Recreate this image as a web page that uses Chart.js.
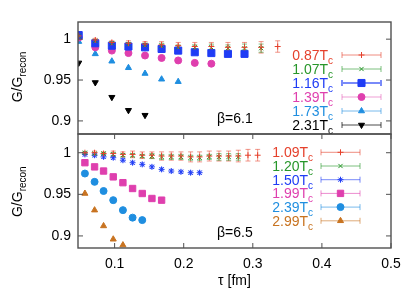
<!DOCTYPE html>
<html>
<head>
<meta charset="utf-8">
<script src="https://cdn.jsdelivr.net/npm/chart.js@4/dist/chart.umd.min.js"></script>
<style>
  html, body { margin: 0; padding: 0; background: #fff; }
  #wrap { position: relative; width: 414px; height: 290px; }
  canvas { position: absolute; left: 0; }
  #topChart { top: 0; }
  #bottomChart { top: 119px; }
</style>
</head>
<body>
<div id="wrap">
  <canvas id="topChart" width="414" height="149"></canvas>
  <canvas id="bottomChart" width="414" height="171"></canvas>
</div>
<script>
// beta = 6.1 panel
const tau61 = [0.048, 0.072, 0.096, 0.120, 0.144, 0.168, 0.192, 0.216, 0.240, 0.264, 0.288, 0.312, 0.336];
const t087 = [1.004, 0.999, 0.996, 0.995, 0.994, 0.993, 0.992, 0.991, 0.991, 0.990, 0.990, 0.990, 0.991];
const e087 = [0.001, 0.002, 0.002, 0.003, 0.003, 0.004, 0.004, 0.005, 0.005, 0.006, 0.006, 0.007, 0.007];
const t107 = [1.004, 0.998, 0.995, 0.994, 0.993, 0.992, 0.990, 0.990, 0.990, 0.989, 0.989, 0.989];
const e107 = [0.001, 0.001, 0.002, 0.002, 0.002, 0.003, 0.003, 0.003, 0.004, 0.004, 0.005, 0.005];
const t116 = [1.005, 0.995, 0.992, 0.991, 0.990, 0.988, 0.986, 0.984, 0.983, 0.982, 0.982];
const t139 = [1.002, 0.990, 0.986, 0.983, 0.980, 0.977, 0.974, 0.971, 0.970];
const t173 = [0.997, 0.982, 0.973, 0.965, 0.958, 0.951, 0.948];
const t231 = [0.971, 0.947, 0.929, 0.913, 0.907];

// beta = 6.5 panel
const tau65 = [0.057, 0.071, 0.084, 0.098, 0.112, 0.126, 0.140, 0.154, 0.168, 0.182, 0.196, 0.210, 0.223, 0.237, 0.251, 0.265, 0.279, 0.293, 0.307];
const b109 = [1.000, 1.000, 0.999, 0.999, 0.998, 0.998, 0.997, 0.997, 0.996, 0.996, 0.996, 0.995, 0.995, 0.996, 0.996, 0.996, 0.996, 0.997, 0.997];
const f109 = [0.001, 0.002, 0.002, 0.003, 0.003, 0.004, 0.004, 0.004, 0.005, 0.005, 0.005, 0.006, 0.006, 0.006, 0.006, 0.006, 0.007, 0.007, 0.007];
const b120 = [1.000, 0.999, 0.999, 0.998, 0.997, 0.997, 0.996, 0.996, 0.995, 0.995, 0.995, 0.994, 0.994, 0.995, 0.995, 0.995, 0.995];
const f120 = [0.001, 0.001, 0.001, 0.002, 0.002, 0.002, 0.002, 0.003, 0.003, 0.003, 0.003, 0.003, 0.003, 0.003, 0.004, 0.004, 0.004];
const b150 = [0.998, 0.997, 0.995, 0.994, 0.991, 0.988, 0.986, 0.983, 0.980, 0.978, 0.977, 0.976, 0.976];
const f150 = [0.002, 0.002, 0.002, 0.002, 0.002, 0.002, 0.002, 0.002, 0.002, 0.002, 0.002, 0.002, 0.002];
const b199 = [0.988, 0.983, 0.978, 0.971, 0.964, 0.957, 0.951, 0.945, 0.943];
const b239 = [0.975, 0.965, 0.954, 0.943, 0.931, 0.922, 0.919];
const b299 = [0.951, 0.931, 0.912, 0.896, 0.889];

const xTicks = [0.1, 0.2, 0.3, 0.4, 0.5];
const yTicks = [0.9, 0.95, 1];

Chart.defaults.font.family = "'Liberation Sans', Arial, sans-serif";
Chart.defaults.font.size = 14;
Chart.defaults.color = "#000";

function pts(tau, vals) {
  return vals.map((v, i) => ({ x: tau[i], y: v }));
}

function ds(label, color, tau, vals, style, radius, extra) {
  return Object.assign({
    label: label,
    data: pts(tau, vals),
    pointStyle: style,
    pointRadius: radius,
    pointBackgroundColor: color,
    pointBorderColor: color,
    pointBorderWidth: 1,
    showLine: false,
    color: color,
  }, extra || {});
}

const RED = "#e5412c", GREEN = "#27962a", BLUE = "#1f3cf5",
  MAG = "#df3fae", LBLUE = "#1f8ee0", BLACK = "#000", ORANGE = "#c87320";

// error bars, legend, frame, labels (offsets are from the top of the chart area)
const panelPlugin = {
  id: "panel",
  beforeDatasetsDraw(chart) {
    const ctx = chart.ctx, xs = chart.scales.x, ys = chart.scales.y, a = chart.chartArea;
    ctx.save();
    ctx.beginPath();
    ctx.rect(a.left, a.top, a.right - a.left, a.bottom - a.top);
    ctx.clip();
    chart.data.datasets.forEach((d) => {
      if (!d.errors) return;
      ctx.strokeStyle = d.errColor;
      ctx.lineWidth = 1;
      d.data.forEach((p, i) => {
        const x = xs.getPixelForValue(p.x);
        const y0 = ys.getPixelForValue(p.y - d.errors[i]);
        const y1 = ys.getPixelForValue(p.y + d.errors[i]);
        ctx.beginPath();
        ctx.moveTo(x, y0); ctx.lineTo(x, y1);
        ctx.moveTo(x - 2.5, y0); ctx.lineTo(x + 2.5, y0);
        ctx.moveTo(x - 2.5, y1); ctx.lineTo(x + 2.5, y1);
        ctx.stroke();
      });
    });
    ctx.restore();
  },
  afterDraw(chart, args, opts) {
    const ctx = chart.ctx, xs = chart.scales.x, ys = chart.scales.y, a = chart.chartArea;
    ctx.save();
    // frame
    ctx.strokeStyle = "#505050";
    ctx.lineWidth = 1.4;
    ctx.strokeRect(a.left, a.top, a.right - a.left, a.bottom - a.top);
    // inward ticks
    ctx.lineWidth = 1;
    ctx.beginPath();
    yTicks.forEach((v) => {
      const y = ys.getPixelForValue(v);
      ctx.moveTo(a.left, y); ctx.lineTo(a.left + 5, y);
      ctx.moveTo(a.right, y); ctx.lineTo(a.right - 5, y);
    });
    if (opts.xTicks) {
      xTicks.forEach((v) => {
        const x = xs.getPixelForValue(v);
        ctx.moveTo(x, a.bottom); ctx.lineTo(x, a.bottom - 5);
        ctx.moveTo(x, a.top); ctx.lineTo(x, a.top + 5);
      });
    }
    ctx.stroke();

    // beta label
    ctx.fillStyle = "#000";
    ctx.font = "14px 'Liberation Sans', Arial, sans-serif";
    ctx.textBaseline = "middle";
    ctx.textAlign = "left";
    ctx.fillText(opts.beta, opts.betaX, a.top + opts.betaY);

    // y title G/G_recon
    ctx.save();
    ctx.translate(22, a.top + opts.titleY);
    ctx.rotate(-Math.PI / 2);
    ctx.textBaseline = "alphabetic";
    ctx.font = "14px 'Liberation Sans', Arial, sans-serif";
    const mw = ctx.measureText("G/G").width;
    ctx.font = "10px 'Liberation Sans', Arial, sans-serif";
    const sw = ctx.measureText("recon").width;
    const x0 = -(mw + sw) / 2;
    ctx.font = "14px 'Liberation Sans', Arial, sans-serif";
    ctx.fillText("G/G", x0, 0);
    ctx.font = "10px 'Liberation Sans', Arial, sans-serif";
    ctx.fillText("recon", x0 + mw, 3.5);
    ctx.restore();

    // legend
    chart.data.datasets.forEach((d, i) => {
      const y = a.top + opts.legY + i * opts.legStep;
      ctx.font = "10px 'Liberation Sans', Arial, sans-serif";
      const cw = ctx.measureText("c").width;
      ctx.font = "14px 'Liberation Sans', Arial, sans-serif";
      const main = d.label + "T";
      const tw = ctx.measureText(main).width;
      ctx.fillStyle = d.color;
      ctx.textBaseline = "alphabetic";
      ctx.fillText(main, opts.textRight - cw - tw, y + 5);
      ctx.font = "10px 'Liberation Sans', Arial, sans-serif";
      ctx.fillText("c", opts.textRight - cw, y + 9);

      ctx.strokeStyle = d.legLine;
      ctx.lineWidth = d.legWidth || 1;
      ctx.beginPath();
      ctx.moveTo(opts.sx0, y); ctx.lineTo(opts.sx1, y);
      ctx.moveTo(opts.sx0, y - 3); ctx.lineTo(opts.sx0, y + 3);
      ctx.moveTo(opts.sx1, y - 3); ctx.lineTo(opts.sx1, y + 3);
      ctx.stroke();
      ctx.fillStyle = d.pointBackgroundColor;
      ctx.strokeStyle = d.pointBorderColor;
      ctx.lineWidth = d.pointBorderWidth;
      Chart.helpers.drawPoint(ctx, {
        pointStyle: d.pointStyle, radius: d.pointRadius,
        rotation: d.pointRotation || 0, borderWidth: d.pointBorderWidth
      }, (opts.sx0 + opts.sx1) / 2, y);
    });
    ctx.restore();
  }
};

// y tick labels make Chart.js keep 8px + 7px padding above and below the chart area
function yScale(min, max) {
  return {
    min: min, max: max,
    grid: { display: false, drawTicks: false },
    border: { display: false },
    afterFit: (s) => { s.width = 78; },
    afterBuildTicks: (s) => { s.ticks = yTicks.map((v) => ({ value: v })); },
    ticks: { padding: 7, font: { size: 14, lineHeight: "16px" }, callback: (v) => String(v) },
  };
}

new Chart(document.getElementById("topChart"), {
  type: "scatter",
  data: {
    datasets: [
      ds("0.87", RED, tau61, t087, "cross", 3, { errors: e087, errColor: "rgba(229,65,44,0.55)", legLine: "rgba(229,65,44,0.6)" }),
      ds("1.07", GREEN, tau61, t107, "crossRot", 3, { errors: e107, errColor: "rgba(39,150,42,0.55)", legLine: "rgba(39,150,42,0.6)" }),
      ds("1.16", BLUE, tau61, t116, "rect", 5, { legLine: "rgba(31,60,245,0.6)", legWidth: 2 }),
      ds("1.39", MAG, tau61, t139, "circle", 3.5, { legLine: "rgba(223,63,174,0.5)" }),
      ds("1.73", LBLUE, tau61, t173, "triangle", 3.5, { legLine: "rgba(31,142,224,0.6)" }),
      ds("2.31", BLACK, tau61, t231, "triangle", 3.5, { pointRotation: 180, legLine: "rgba(0,0,0,0.7)" }),
    ],
  },
  options: {
    responsive: false,
    animation: false,
    layout: { padding: { top: 22, right: 23, bottom: 0, left: 0 } },
    scales: {
      x: { type: "linear", min: 0.047, max: 0.5, display: false },
      y: yScale(0.884, 1.021),
    },
    plugins: {
      legend: { display: false },
      tooltip: { enabled: false },
      panel: {
        xTicks: false, beta: "β=6.1", betaX: 217, betaY: 97, titleY: 55,
        legY: 33, legStep: 14, textRight: 333, sx0: 342, sx1: 381,
      },
    },
  },
  plugins: [panelPlugin],
});

new Chart(document.getElementById("bottomChart"), {
  type: "scatter",
  data: {
    datasets: [
      ds("1.09", RED, tau65, b109, "cross", 3, { errors: f109, errColor: "rgba(229,65,44,0.55)", legLine: "rgba(229,65,44,0.6)" }),
      ds("1.20", GREEN, tau65, b120, "crossRot", 3, { errors: f120, errColor: "rgba(39,150,42,0.55)", legLine: "rgba(39,150,42,0.6)" }),
      ds("1.50", BLUE, tau65, b150, "star", 3, { errors: f150, errColor: "rgba(31,60,245,0.45)", legLine: "rgba(31,60,245,0.6)" }),
      ds("1.99", MAG, tau65, b199, "rect", 4.5, { legLine: "rgba(223,63,174,0.6)" }),
      ds("2.39", LBLUE, tau65, b239, "circle", 3.5, { legLine: "rgba(31,142,224,0.6)" }),
      ds("2.99", ORANGE, tau65, b299, "triangle", 3.5, { legLine: "rgba(200,115,32,0.6)" }),
    ],
  },
  options: {
    responsive: false,
    animation: false,
    layout: { padding: { top: 0, right: 23, bottom: 0, left: 0 } },
    scales: {
      x: {
        type: "linear", min: 0.047, max: 0.5,
        grid: { display: false, drawTicks: false },
        border: { display: false },
        afterFit: (s) => { s.height = 42; },
        afterBuildTicks: (s) => { s.ticks = xTicks.map((v) => ({ value: v })); },
        ticks: { padding: 8, maxRotation: 0, callback: (v) => String(v) },
        title: { display: true, text: "τ [fm]", padding: { top: 0, bottom: 0 } },
      },
      y: yScale(0.8855, 1.0225),
    },
    plugins: {
      legend: { display: false },
      tooltip: { enabled: false },
      panel: {
        xTicks: true, beta: "β=6.5", betaX: 217, betaY: 99, titleY: 57.7,
        legY: 18.3, legStep: 13.7, textRight: 313, sx0: 321, sx1: 360,
      },
    },
  },
  plugins: [panelPlugin],
});
</script>
</body>
</html>
